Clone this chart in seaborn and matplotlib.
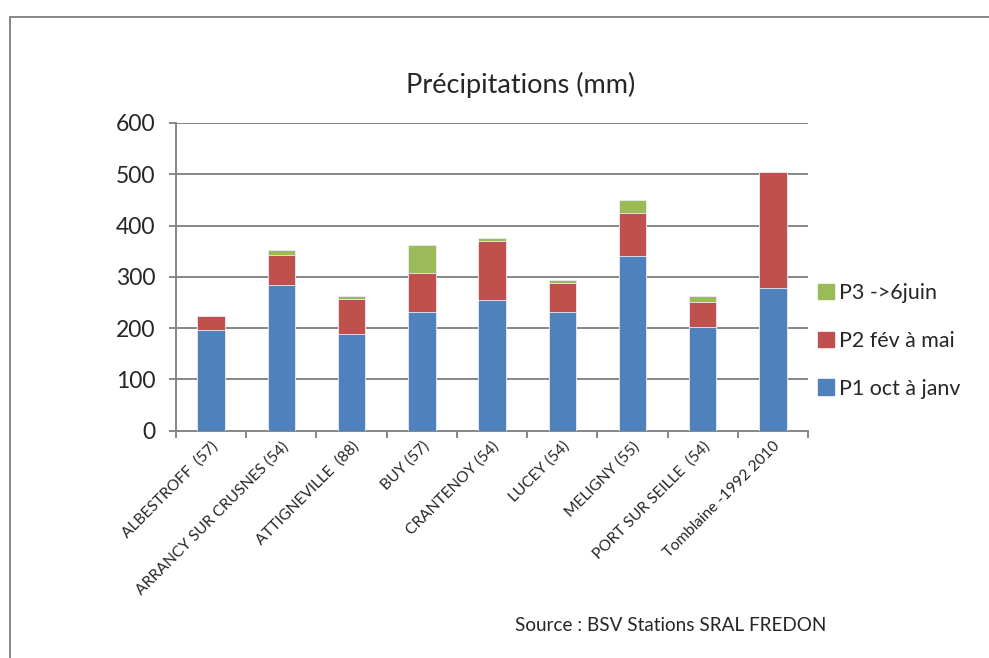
import pandas as pd
import numpy as np
import matplotlib
matplotlib.use("Agg")
import matplotlib.pyplot as plt
import seaborn as sns
from matplotlib.patches import Rectangle, Patch

sns.set_style("white")
plt.rcParams['font.family'] = ['Lato', 'DejaVu Sans']

# data (mm)
stations = ["ALBESTROFF  (57)", "ARRANCY SUR CRUSNES (54)", "ATTIGNEVILLE  (88)",
            "BUY (57)", "CRANTENOY (54)", "LUCEY (54)", "MELIGNY (55)",
            "PORT SUR SEILLE  (54)", "Tomblaine -1992 2010"]
p1 = [196, 285, 188, 231, 254, 231, 340, 203, 278]
p2 = [27, 58, 69, 77, 116, 57, 85, 47, 226]
p3 = [0, 9, 5, 55, 5, 6, 25, 13, 0]
series_labels = ["P1 oct à janv", "P2 fév à mai", "P3 ->6juin"]
colors = ["#4F81BD", "#C0504D", "#9BBB59"]

df = pd.DataFrame({"station": stations, "p1": p1, "p2": p2, "p3": p3})
df["p12"] = df["p1"] + df["p2"]
df["p123"] = df["p12"] + df["p3"]

fig = plt.figure(figsize=(9.89, 6.58), dpi=100)
ax = fig.add_axes([0.178, 0.3454, 0.639, 0.4677])

# stacked bars: draw cumulative totals from the top down
for col, c in zip(["p123", "p12", "p1"], colors[::-1]):
    sns.barplot(data=df, x="station", y=col, color=c, width=0.39,
                saturation=1, edgecolor="#e8eef6", linewidth=0.6, ax=ax, zorder=3)

ax.set_ylim(0, 600)
ax.set_xlim(-0.5, len(stations) - 0.5)
ax.set_yticks(range(0, 601, 100))
ax.yaxis.grid(True, color="#868686", linewidth=1.4)
ax.set_axisbelow(True)
for s in ["top", "right"]:
    ax.spines[s].set_visible(False)
for s in ["left", "bottom"]:
    ax.spines[s].set_color("#868686")
    ax.spines[s].set_linewidth(1.4)

ax.set_xlabel("")
ax.set_ylabel("")
ax.set_xticks(np.arange(len(stations)))
ax.set_xticklabels(stations, rotation=45, ha="right", rotation_mode="anchor", fontsize=11.2)
ax.tick_params(axis="x", length=0, pad=6)
ax.tick_params(axis="y", labelsize=16.5, length=5, width=1.4, color="#868686", pad=10, left=True)
# category boundary ticks
ax.set_xticks(np.arange(-0.5, len(stations)), minor=True)
ax.tick_params(axis="x", which="minor", length=5, width=1.4, color="#868686", bottom=True)

fig.text(0.526, 0.871, "Précipitations (mm)", ha="center", va="center", fontsize=19.5)
fig.text(0.521, 0.050, "Source : BSV Stations SRAL FREDON", ha="left", va="center", fontsize=13.6)

handles = [Patch(color=c) for c in colors[::-1]]
fig.legend(handles, series_labels[::-1], loc="center left", bbox_to_anchor=(0.818, 0.482),
           frameon=False, fontsize=15.4, handlelength=0.75, handleheight=0.75,
           handletextpad=0.25, labelspacing=1.3, borderaxespad=0)

# outer chart frame
fig.patches.append(Rectangle((10 / 989, -0.1), 1.2, 1.1 - 17 / 658,
                             transform=fig.transFigure, fill=False,
                             edgecolor="#868686", linewidth=1.4))

fig.savefig("out.png", dpi=100)
